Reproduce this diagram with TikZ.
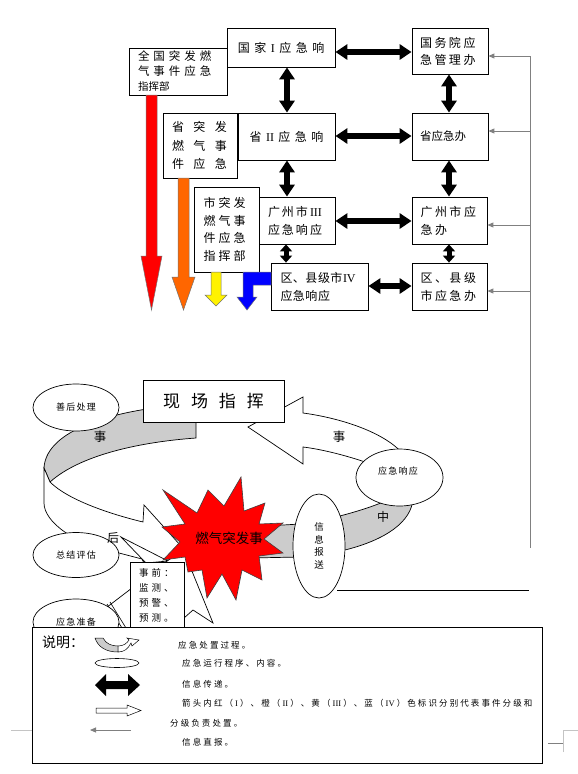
\documentclass[tikz,border=0pt]{standalone}
\usepackage{fontspec}
\setmainfont{Noto Sans CJK SC}
\newfontfamily\lat{Liberation Serif}
\usetikzlibrary{arrows.meta,shapes.geometric}
\definecolor{bandgray}{HTML}{CCCCCC}
\definecolor{infogray}{HTML}{808080}
\definecolor{markgray}{HTML}{C4C4C4}
\definecolor{orangeA}{HTML}{FF6600}
\makeatletter
\newcommand\ltrsp[2]{\def\ltrsp@gap{\hspace{#1}}\@tfor\ltrsp@c:=#2\do{\ltrsp@c\ltrsp@gap}\unskip}
\makeatother
\newcommand\fs[1]{\fontsize{#1}{#1}\selectfont}
\begin{document}
\begin{tikzpicture}[x=1pt,y=-1pt,
  box/.style={draw, line width=0.8pt, fill=white, inner sep=0pt},
  ell/.style={draw, ellipse, line width=0.7pt, fill=white, inner sep=0pt},
  dblarr/.style={line width=6pt, {Triangle[width=15pt,length=12pt]}-{Triangle[width=15pt,length=12pt]}},
  dblshort/.style={line width=5pt, {Triangle[width=12pt,length=7pt]}-{Triangle[width=12pt,length=7pt]}},
  info/.style={draw=infogray, line width=0.9pt, -{Triangle[width=5pt,length=6pt]}},
  band/.style={draw, line width=0.7pt, fill=bandgray},
  wband/.style={draw, line width=0.7pt, fill=white},
  colarr/.style={draw=black!55, line width=0.5pt},
  lbl/.style={inner sep=0pt},
]
\useasboundingbox (0,0) rectangle (578,774);

% ---------------- top hierarchy ----------------
\node[box, minimum width=98pt, minimum height=47pt, text width=80pt, align=left, font=\fontsize{11.5}{15}\selectfont] (qgzh) at (178,71.5)
  {\ltrsp{4pt}{全国突发燃}\\\ltrsp{4pt}{气事件应急}\\{\fontsize{10.5}{10.5}\selectfont 指挥部}};
\node[box, minimum width=108pt, minimum height=39pt, font=\fs{12}] (gj) at (281,47.5) {\ltrsp{4.5pt}{国家{{\lat I}}应急响}};
\node[box, minimum width=76pt, minimum height=46pt, text width=60pt, align=left, font=\fontsize{12}{17}\selectfont] (gwy) at (450,51)
  {\ltrsp{2.5pt}{国务院应}\\\ltrsp{2.5pt}{急管理办}};
\node[box, minimum width=74pt, minimum height=65pt, text width=56pt, align=left, font=\fontsize{12}{18.5}\selectfont] (szh) at (200,145.5)
  {\ltrsp{9.5pt}{省突发}\\\ltrsp{9.5pt}{燃气事}\\\ltrsp{9.5pt}{件应急}};
\node[box, minimum width=97pt, minimum height=47pt, font=\fs{12}] (s2) at (286.5,136.5) {\ltrsp{4.5pt}{省{{\lat II}}应急响}};
\node[box, minimum width=76pt, minimum height=47pt, text width=60pt, align=left, font=\fs{11.5}] (syj) at (450,136.5) {省应急办};
\node[box, minimum width=65pt, minimum height=85pt, text width=46pt, align=left, font=\fontsize{12}{17.7}\selectfont] (shizh) at (226.5,229.5)
  {\ltrsp{3pt}{市突发}\\\ltrsp{3pt}{燃气事}\\\ltrsp{3pt}{件应急}\\\ltrsp{3pt}{指挥部}};
\node[box, minimum width=76pt, minimum height=47pt, text width=58pt, align=left, font=\fontsize{12}{18}\selectfont] (gz3) at (297,220.5)
  {\ltrsp{2pt}{广州市{{\lat III}}}\\\ltrsp{2pt}{应急响应}};
\node[box, minimum width=97pt, minimum height=47pt, text width=78pt, align=left, font=\fontsize{12}{18}\selectfont] (q4) at (319.5,286.5)
  {\ltrsp{0.5pt}{区、县级市{{\lat IV}}}\\\ltrsp{0.5pt}{应急响应}};
\node[box, minimum width=75pt, minimum height=47pt, text width=58pt, align=left, font=\fontsize{12}{18}\selectfont] (gzyj) at (449.5,220.5)
  {\ltrsp{2.5pt}{广州市应}\\\ltrsp{2.5pt}{急办}};
\node[box, minimum width=75pt, minimum height=47pt, text width=58pt, align=left, font=\fontsize{12}{18}\selectfont] (qyj) at (449.5,286.5)
  {\ltrsp{2.5pt}{区、县级}\\\ltrsp{2.5pt}{市应急办}};

% coloured level arrows
\path[colarr, fill=red] (146,95) -- (157,95) -- (157,256) -- (162,256) -- (151.5,310) -- (141,256) -- (146,256) -- cycle;
\path[colarr, fill=orangeA] (178,178) -- (189,178) -- (189,277) -- (195,277) -- (183.5,310) -- (172,277) -- (178,277) -- cycle;
\path[colarr, fill=yellow] (211,272) -- (221,272) -- (221,295) -- (227,295) -- (216,306) -- (205,295) -- (211,295) -- cycle;
\path[colarr, fill=blue] (271,272) -- (243,272) -- (243,297) -- (237,297) -- (247,310) -- (257,297) -- (253,297) -- (253,285) -- (271,285) -- cycle;

% black two-way arrows
\coordinate (h1) at (0,52);
\coordinate (h2) at (0,136);
\coordinate (h3) at (0,221);
\coordinate (h4) at (0,286);
\coordinate (vl) at (287,0);
\coordinate (vl2) at (286,0);
\coordinate (vr) at (449,0);
\draw[dblarr] (gj.east |- h1) -- (gwy.west |- h1);
\draw[dblarr] (s2.east |- h2) -- (syj.west |- h2);
\draw[dblarr] (gz3.east |- h3) -- (gzyj.west |- h3);
\draw[dblarr] (q4.east |- h4) -- (qyj.west |- h4);
\draw[dblarr] (gj.south -| vl) -- (s2.north -| vl);
\draw[dblarr] (gwy.south -| vr) -- (syj.north -| vr);
\draw[dblarr] (s2.south -| vl) -- (gz3.north -| vl);
\draw[dblarr] (syj.south -| vr) -- (gzyj.north -| vr);
\draw[dblshort] (gz3.south -| vl2) -- (q4.north -| vl2);
\draw[dblshort] (gzyj.south -| vr) -- (qyj.north -| vr);

% grey direct-report line
\coordinate (v1) at (530,56);
\coordinate (v2) at (530,131);
\coordinate (v3) at (530,225);
\coordinate (v4) at (530,291);
\coordinate (vend) at (530,548);
\draw[infogray, line width=0.9pt] (v1) -- (vend);
\draw[info] (v1) -- (gwy.east |- v1);
\draw[info] (v2) -- (syj.east |- v2);
\draw[info] (v3) -- (gzyj.east |- v3);
\draw[info] (v4) -- (qyj.east |- v4);

% ---------------- lower cycle ----------------
\coordinate (bl1) at (337,590);
\coordinate (bl2) at (529,590);
\draw[line width=0.9pt] (bl1) -- (bl2);

\path[band] (196,404) .. controls (120,408) and (46,428) .. (44,468) -- (50,482) .. controls (80,455) and (140,442) .. (196,438) -- cycle;
\path[wband] (44,468) -- (44,503) .. controls (44,522) and (75,545) .. (119,553) -- (142,559) -- (150,575) -- (190,556) -- (144,505) -- (143,522) .. controls (110,514) and (68,500) .. (50,482) -- cycle;
\path[wband] (121,537) -- (168,561) -- (146,563) -- cycle;
\path[band] (250,527) -- (300,524) .. controls (335,519) and (370,508) .. (388,500) -- (413,498) .. controls (412,522) and (385,540) .. (345,550) -- (300,557) -- (250,558) -- cycle;
\path[wband] (248,427) -- (303,397) -- (303,413) .. controls (340,418) and (385,432) .. (404,455) -- (368,463) .. controls (345,455) and (320,449) .. (303,447) -- (303,464) -- cycle;
\path[wband] (98,614) -- (183,549) -- (213,623) -- (193,610) -- (184,618) -- (160,650) -- (100,640) -- cycle;
\draw[line width=0.6pt] (104,606) -- (118,628) (107,604) -- (122,628) (110,602) -- (126,628);

% explosion
\path[draw=black!75, line width=0.6pt, fill=red]
  (163,490) -- (197,513) -- (208,490) -- (224,506) -- (241,477) -- (244,511) -- (265,503) -- (259,524)
  -- (283,523) -- (264,539) -- (283,553) -- (259,556) -- (262,580) -- (242,570) -- (236,600) -- (222,574)
  -- (207,598) -- (202,570) -- (188,572) -- (185,557) -- (163,560) -- (180,542) -- (162,527) -- (185,524) -- cycle;
\node[lbl, font=\fs{13.5}] (evt) at (229,538) {燃气突发事};

\node[box, minimum width=141pt, minimum height=42pt, font=\fs{17}] (xczh) at (213.5,401) {\ltrsp{11pt}{现场指挥}};

\node[ell, minimum width=86pt, minimum height=47pt, font=\fs{9}] (e1) at (76,407.5) {\ltrsp{1.2pt}{善后处理}};
\node[ell, minimum width=86pt, minimum height=45pt, font=\fs{9}] (e2) at (76,555) {\ltrsp{1.2pt}{总结评估}};
\node[ell, minimum width=86pt, minimum height=46pt, font=\fs{9}] (e3) at (76,622) {\ltrsp{1.2pt}{应急准备}};
\node[ell, minimum width=87pt, minimum height=57pt] (e4) at (399.5,477.5) {};
\node[lbl, font=\fs{9}] (t4) at (398,471) {\ltrsp{1.2pt}{应急响应}};
\node[ell, minimum width=52pt, minimum height=104pt, align=center, font=\fontsize{9.5}{12.5}\selectfont] (e5) at (319,546) {信\\息\\报\\送};

\node[box, line width=0.7pt, minimum width=54pt, minimum height=76pt, anchor=north west] (sq) at (130,562) {};
\node[lbl, anchor=north west, align=left, font=\fontsize{9.5}{15}\selectfont] (sqt) at (139,568)
  {\ltrsp{3pt}{事前：}\\\ltrsp{3pt}{监测、}\\\ltrsp{3pt}{预警、}\\\ltrsp{3pt}{预测。}};

\node[lbl, font=\fs{12.5}] (s1) at (100,437) {事};
\node[lbl, font=\fs{12.5}] (s2t) at (339,437) {事};
\node[lbl, font=\fs{12}] (s3) at (383,517) {中};
\node[lbl, font=\fs{12}] (s4) at (113,538) {后};

% ---------------- legend ----------------
\node[draw, line width=0.9pt, fill=white, minimum width=510pt, minimum height=136pt, anchor=north west, inner sep=0pt] (legend) at (32,627) {};
\node[lbl, anchor=base west, font=\fs{14}] (sm) at (42,647) {说明：};
\path[draw, line width=0.5pt, fill=bandgray] (95,638) -- (103,638) .. controls (106,644) and (112,646) .. (118,646) -- (118,652) .. controls (106,652) and (98,647) .. (95,638) -- cycle;
\path[draw, line width=0.5pt, fill=white] (118,646) .. controls (124,646) and (127,643) .. (129,640) -- (127,638) -- (139,640) -- (132,646) -- (131,643) .. controls (128,649) and (124,652) .. (118,652) -- cycle;
\node[ell, line width=0.6pt, minimum width=44pt, minimum height=9pt] (le) at (117,663) {};
\path[fill=black] (95,685) -- (106,674) -- (106,681) -- (128,681) -- (128,674) -- (140,685) -- (128,696) -- (128,689) -- (106,689) -- (106,696) -- cycle;
\path[draw, line width=0.5pt, fill=white] (96,708) -- (127,708) -- (127,705) -- (141,710.5) -- (127,716) -- (127,713) -- (96,713) -- cycle;
\coordinate (ga1) at (131,730);
\coordinate (ga2) at (90,730);
\draw[info] (ga1) -- (ga2);

\node[lbl, anchor=base west, font=\fs{8.5}] (l1) at (178,648) {\ltrsp{2.1pt}{应急处置过程。}};
\node[lbl, anchor=base west, font=\fs{8.5}] (l2) at (182,666) {\ltrsp{2.1pt}{应急运行程序、内容。}};
\node[lbl, anchor=base west, font=\fs{8.5}] (l3) at (182,687) {\ltrsp{2.1pt}{信息传递。}};
\node[lbl, anchor=base west, font=\fs{8.5}] (l4) at (182,706) {\ltrsp{2.1pt}{箭头内红（{{\lat I}}）、橙（{{\lat II}}）、黄（{{\lat III}}）、蓝（{{\lat IV}}）色标识分别代表事件分级和}};
\node[lbl, anchor=base west, font=\fs{8.5}] (l5) at (170,726) {\ltrsp{2.1pt}{分级负责处置。}};
\node[lbl, anchor=base west, font=\fs{8.5}] (l6) at (182,745) {\ltrsp{2.1pt}{信息直报。}};

% page corner marks
\draw[markgray, line width=0.8pt] (11,730) -- (32,730);
\draw[infogray, line width=0.8pt] (548,743) -- (563,743);
\draw[markgray, line width=0.8pt] (563,752) -- (563,730) -- (578,730);
\end{tikzpicture}
\end{document}
